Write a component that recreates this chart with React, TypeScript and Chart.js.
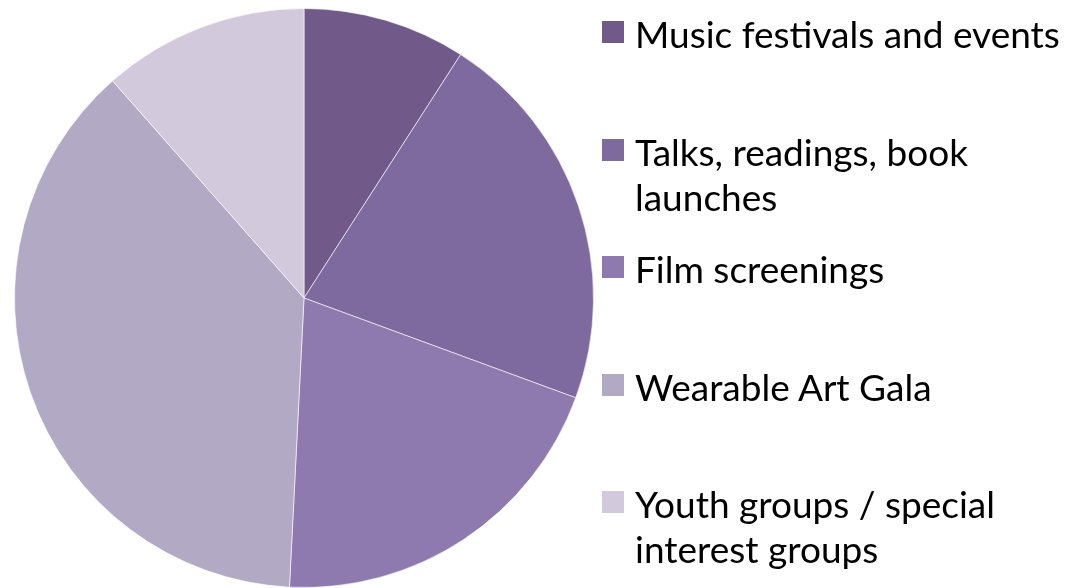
import React, { useEffect, useRef } from "react";
import { Chart, registerables } from "chart.js";

Chart.register(...registerables);

const categories: string[] = [
  "Music festivals and events",
  "Talks, readings, book launches",
  "Film screenings",
  "Wearable Art Gala",
  "Youth groups / special interest groups",
];
const shares: number[] = [9.1, 21.5, 20.2, 37.7, 11.5];
const sliceColors: string[] = ["#715a8a", "#7f6a9f", "#8f7aaf", "#b2aac4", "#d2c9dc"];

export default function App() {
  const canvasRef = useRef<HTMLCanvasElement | null>(null);

  useEffect(() => {
    if (!canvasRef.current) return;
    const chart = new Chart(canvasRef.current, {
      type: "pie",
      data: {
        labels: categories,
        datasets: [
          {
            data: shares,
            backgroundColor: sliceColors,
            borderColor: "rgba(255,255,255,0.6)",
            borderWidth: 1,
          },
        ],
      },
      options: {
        animation: false,
        responsive: false,
        maintainAspectRatio: false,
        layout: { padding: { top: 8, bottom: 0, left: 14, right: 14 } },
        plugins: {
          legend: { display: false },
          tooltip: { enabled: false },
        },
      },
    });
    return () => chart.destroy();
  }, []);

  return (
    <div
      style={{
        position: "absolute",
        left: 0,
        top: 0,
        width: 1080,
        height: 588,
        overflow: "hidden",
        background: "#ffffff",
      }}
    >
      <canvas
        ref={canvasRef}
        width={608}
        height={588}
        style={{ position: "absolute", left: 0, top: 0, width: 608, height: 588 }}
      />
      {categories.map((label, i) => (
        <div
          key={label}
          style={{
            position: "absolute",
            left: 602,
            top: 21 + i * 117.5,
            width: 475,
          }}
        >
          <div
            style={{
              position: "absolute",
              left: 0,
              top: 0,
              width: 22,
              height: 22,
              background: sliceColors[i],
            }}
          />
          <div
            style={{
              position: "absolute",
              left: 33,
              top: -10,
              width: 440,
              fontFamily: "Lato, 'Open Sans', sans-serif",
              fontSize: 37,
              lineHeight: "45px",
              color: "#000000",
            }}
          >
            {label}
          </div>
        </div>
      ))}
    </div>
  );
}
